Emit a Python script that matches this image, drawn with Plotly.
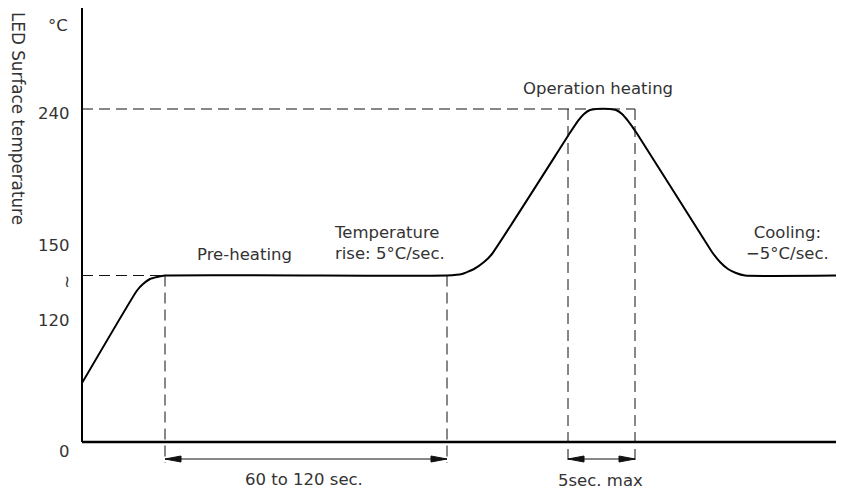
import numpy as np
import plotly.graph_objects as go

# ---- data (schematic reflow profile) ----
# time in schematic units (1 unit ~ 1 px of the reference), temperature in °C
time = [0, 55, 61, 68, 75, 83, 365, 380, 392, 402, 410, 488, 496, 502, 508, 514,
        528, 534, 540, 546, 554, 623, 630, 638, 646, 654, 663, 762]
temperature = [57, 131, 133.6, 135.6, 136.4, 137, 137, 137.6, 139.6, 142.4, 145.6,
               224, 232, 236.6, 239.3, 240, 240, 239.3, 236.6, 232, 224.5,
               151.3, 146.4, 142.4, 139.6, 138, 137, 137]

PREHEAT_TEMP = 137
PEAK_TEMP = 240
PREHEAT_START, PREHEAT_END = 83, 365
PEAK_START, PEAK_END = 486, 553

# broken (schematic) temperature axis: tick temperatures and their vertical levels
TICK_TEMPS = [0, 120, 150, 240]
TICK_LEVELS = [0, 124, 199, 333]
TICK_LABELS = [("0", 0, -9), ("120", 120, -2), ("≀", PREHEAT_TEMP, -6),
               ("150", 150, -2), ("240", 240, -4)]


def level(t):
    return np.interp(t, TICK_TEMPS, TICK_LEVELS)


# page body has an 8px margin: shift the visible ranges so the drawing lands in place
PAGE_OFF = 8
W, H = 844, 491
X_MIN = -82 + PAGE_OFF
X_MAX = X_MIN + W
Y_MAX = 442 - PAGE_OFF
Y_MIN = Y_MAX - H
AXIS_TOP = 434
AXIS_RIGHT = 762

FONT = "DejaVu Sans"
TXT = "#333333"
FS = 16.5

fig = go.Figure()
fig.add_trace(go.Scatter(x=time, y=level(np.array(temperature)), mode="lines",
                         line=dict(color="black", width=2, shape="spline", smoothing=0.4),
                         hoverinfo="skip"))

shapes = []
# axes
shapes.append(dict(type="line", x0=0, x1=AXIS_RIGHT, y0=0, y1=0, line=dict(color="black", width=2.5)))
shapes.append(dict(type="line", x0=0, x1=0, y0=0, y1=AXIS_TOP, line=dict(color="black", width=2)))
dash = dict(color="#111111", width=1, dash="11px,6px")
lvl_pk = float(level(PEAK_TEMP))
lvl_pre = float(level(PREHEAT_TEMP))
shapes.append(dict(type="line", x0=0, x1=PEAK_END, y0=lvl_pk, y1=lvl_pk, line=dash))
shapes.append(dict(type="line", x0=0, x1=PREHEAT_START, y0=lvl_pre, y1=lvl_pre, line=dash))
for xv in (PREHEAT_START, PREHEAT_END):
    shapes.append(dict(type="line", x0=xv, x1=xv, y0=lvl_pre, y1=-21, line=dash))
for xv in (PEAK_START, PEAK_END):
    shapes.append(dict(type="line", x0=xv, x1=xv, y0=lvl_pk, y1=-21, line=dash))

# dimension arrows
ARROW_Y = -17
HL, HW = 16, 3


def dim_arrow(xa, xb, color="#111111"):
    shapes.append(dict(type="line", x0=xa, x1=xb, y0=ARROW_Y, y1=ARROW_Y,
                       line=dict(color=color, width=1)))
    shapes.append(dict(type="path",
                       path=f"M {xa},{ARROW_Y} L {xa+HL},{ARROW_Y+HW} L {xa+HL},{ARROW_Y-HW} Z",
                       fillcolor=color, line=dict(color=color, width=1)))
    shapes.append(dict(type="path",
                       path=f"M {xb},{ARROW_Y} L {xb-HL},{ARROW_Y+HW} L {xb-HL},{ARROW_Y-HW} Z",
                       fillcolor=color, line=dict(color=color, width=1)))


dim_arrow(PREHEAT_START, PREHEAT_END)
dim_arrow(PEAK_START, PEAK_END)

ann = []


def text(x, y, s, xanchor="center", align="center", size=FS, angle=0):
    ann.append(dict(x=x, y=y, text=s, showarrow=False, xanchor=xanchor, yanchor="middle",
                    align=align, textangle=angle,
                    font=dict(family=FONT, size=size, color=TXT)))


# tick labels
for lab, t, shift in TICK_LABELS:
    ann.append(dict(x=-10, y=float(level(t)), yshift=shift, text=lab, showarrow=False,
                    xanchor="right", yanchor="middle",
                    font=dict(family=FONT, size=FS, color=TXT)))
text(-12, 417, "°C", xanchor="right")
text(-64, 324, "LED Surface temperature", size=16.8, angle=90)

text(162, 188, "Pre-heating")
text(250, 199, "Temperature<br>rise: 5°C/sec.", xanchor="left", align="left")
text(516, 354, "Operation heating")
text(705, 199, "Cooling:<br>−5°C/sec.")
text(222, -37, "60 to 120 sec.")
text(518, -38, "5sec. max")

fig.update_layout(
    width=W, height=H,
    margin=dict(l=0, r=0, t=0, b=0),
    paper_bgcolor="white", plot_bgcolor="white",
    showlegend=False,
    xaxis=dict(range=[X_MIN, X_MAX], visible=False, fixedrange=True),
    yaxis=dict(range=[Y_MIN, Y_MAX], visible=False, fixedrange=True),
    shapes=shapes, annotations=ann,
)

fig.write_html("out.html")
